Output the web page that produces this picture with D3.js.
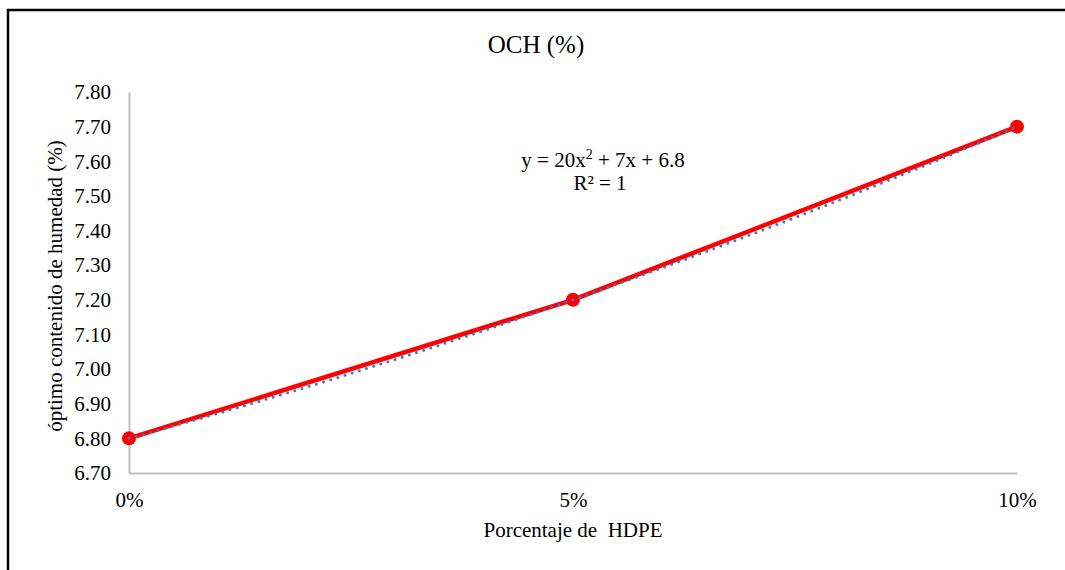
<!DOCTYPE html>
<html>
<head>
<meta charset="utf-8">
<script src="https://cdn.jsdelivr.net/npm/d3@7"></script>
<style>
  body { margin: 0; background: #fff; }
  svg text { font-family: "Liberation Serif", "Tinos", "DejaVu Serif", serif; fill: #000; }
</style>
</head>
<body>
<svg id="chart" width="1065" height="570"></svg>
<script>
// data
const hdpe = [0, 0.05, 0.10];
const hdpeLabels = ["0%", "5%", "10%"];
const och = [6.80, 7.20, 7.70];
const yTicks = [6.70, 6.80, 6.90, 7.00, 7.10, 7.20, 7.30, 7.40, 7.50, 7.60, 7.70, 7.80];

const FONT = "'Liberation Serif', Tinos, 'DejaVu Serif', serif";
const svg = d3.select("#chart");

// outer frame (only left and top edges visible in the reference)
svg.append("path")
    .attr("d", "M8,575 L8,10 L1070,10")
    .attr("fill", "none")
    .attr("stroke", "#000")
    .attr("stroke-width", 2.5);

const x = d3.scaleLinear().domain([0, 0.10]).range([129, 1017]);
const y = d3.scaleLinear().domain([6.70, 7.80]).range([473, 92]);

// axes
const yAxis = svg.append("g")
    .attr("transform", "translate(129,0)")
    .call(d3.axisLeft(y).tickValues(yTicks).tickFormat(d3.format(".2f")).tickSize(0).tickPadding(18))
    .attr("font-family", FONT);
yAxis.select(".domain").attr("stroke", "#bfbfbf").attr("stroke-width", 2);
yAxis.selectAll("text").attr("font-size", 21);

const xAxis = svg.append("g")
    .attr("transform", "translate(0,473)")
    .call(d3.axisBottom(x).tickValues(hdpe).tickFormat((d, i) => hdpeLabels[i]).tickSize(0).tickPadding(19))
    .attr("font-family", FONT);
xAxis.select(".domain").attr("stroke", "#bfbfbf").attr("stroke-width", 2);
xAxis.selectAll("text").attr("font-size", 21);

// titles
svg.append("text")
    .attr("x", 536).attr("y", 53)
    .attr("text-anchor", "middle")
    .attr("font-family", FONT)
    .attr("font-size", 25)
    .text("OCH (%)");

svg.append("text")
    .attr("transform", "translate(62,286) rotate(-90)")
    .attr("text-anchor", "middle")
    .attr("font-family", FONT)
    .attr("font-size", 21)
    .text("óptimo contenido de humedad (%)");

svg.append("text")
    .attr("x", 573).attr("y", 537)
    .attr("text-anchor", "middle")
    .attr("font-family", FONT)
    .attr("font-size", 21)
    .style("white-space", "pre")
    .text("Porcentaje de  HDPE");

// data line + markers
const pts = hdpe.map((d, i) => [d, och[i]]);
svg.append("path")
    .datum(pts)
    .attr("fill", "none")
    .attr("stroke", "#ff0000")
    .attr("stroke-width", 4.5)
    .attr("d", d3.line().x(d => x(d[0])).y(d => y(d[1])));

svg.selectAll("circle.pt")
    .data(pts)
    .join("circle")
    .attr("class", "pt")
    .attr("cx", d => x(d[0]))
    .attr("cy", d => y(d[1]))
    .attr("r", 7)
    .attr("fill", "#ff0000");

// quadratic trendline fitted to the points (least squares, 3 points -> exact)
function polyFit2(xs, ys) {
    const n = xs.length;
    let s = [0, 0, 0, 0, 0], t = [0, 0, 0];
    for (let i = 0; i < n; i++) {
        for (let k = 0; k < 5; k++) s[k] += Math.pow(xs[i], k);
        for (let k = 0; k < 3; k++) t[k] += ys[i] * Math.pow(xs[i], k);
    }
    const A = [[s[0], s[1], s[2], t[0]], [s[1], s[2], s[3], t[1]], [s[2], s[3], s[4], t[2]]];
    for (let c = 0; c < 3; c++) {
        for (let r = c + 1; r < 3; r++) {
            const f = A[r][c] / A[c][c];
            for (let k = c; k < 4; k++) A[r][k] -= f * A[c][k];
        }
    }
    const coef = [0, 0, 0];
    for (let r = 2; r >= 0; r--) {
        let v = A[r][3];
        for (let k = r + 1; k < 3; k++) v -= A[r][k] * coef[k];
        coef[r] = v / A[r][r];
    }
    return coef; // c0 + c1 x + c2 x^2
}
const coef = polyFit2(hdpe, och);
const trend = d3.range(0, 101).map(i => {
    const xv = 0.10 * i / 100;
    return [xv, coef[0] + coef[1] * xv + coef[2] * xv * xv];
});
svg.append("path")
    .datum(trend)
    .attr("fill", "none")
    .attr("stroke", "#4472c4")
    .attr("stroke-width", 3)
    .attr("stroke-linecap", "round")
    .attr("stroke-dasharray", "0 7.5")
    .attr("d", d3.line().x(d => x(d[0])).y(d => y(d[1])));

// equation label
const eq = svg.append("text")
    .attr("x", 603).attr("y", 167)
    .attr("text-anchor", "middle")
    .attr("font-family", FONT)
    .attr("font-size", 21);
eq.append("tspan").text("y = 20x");
eq.append("tspan").attr("font-size", 14).attr("dy", -8).text("2");
eq.append("tspan").attr("dy", 8).text(" + 7x + 6.8");

svg.append("text")
    .attr("x", 600).attr("y", 190)
    .attr("text-anchor", "middle")
    .attr("font-family", FONT)
    .attr("font-size", 21)
    .text("R² = 1");
</script>
</body>
</html>
